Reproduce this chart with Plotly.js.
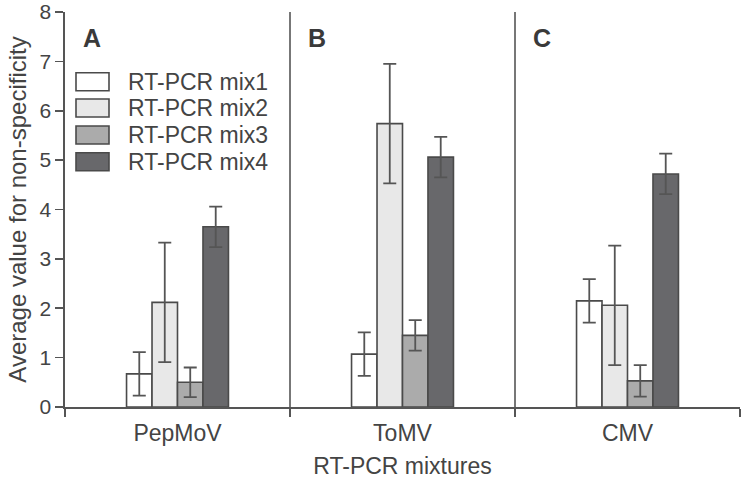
<!DOCTYPE html>
<html>
<head>
<meta charset="utf-8">
<script src="https://cdn.plot.ly/plotly-3.0.1.min.js"></script>
<style>
  html, body { margin: 0; padding: 0; background: #fff; }
  #chart { width: 748px; height: 483px; }
</style>
</head>
<body>
<div id="chart"></div>
<script>
// Virus targets on the x axis
const viruses = ['PepMoV', 'ToMV', 'CMV'];
const panelLetters = ['A', 'B', 'C'];

// Mean non-specificity per RT-PCR mixture, one value per virus
const seriesNames = ['RT-PCR mix1', 'RT-PCR mix2', 'RT-PCR mix3', 'RT-PCR mix4'];
const mix1 = [0.67, 1.07, 2.15];
const mix2 = [2.12, 5.74, 2.06];
const mix3 = [0.50, 1.45, 0.53];
const mix4 = [3.65, 5.06, 4.72];

// Error bar half-lengths
const mix1Err = [0.44, 0.44, 0.44];
const mix2Err = [1.21, 1.21, 1.21];
const mix3Err = [0.30, 0.31, 0.32];
const mix4Err = [0.41, 0.41, 0.41];

const yTicks = [0, 1, 2, 3, 4, 5, 6, 7, 8];

const fills = ['#ffffff', '#e8e8e8', '#ababab', '#68686b'];
const ink = '#444444';
const font = 'Liberation Sans, Arial, sans-serif';

const values = [mix1, mix2, mix3, mix4];
const errs = [mix1Err, mix2Err, mix3Err, mix4Err];

const traces = values.map((v, i) => ({
  type: 'bar',
  name: seriesNames[i],
  x: viruses,
  y: v,
  marker: { color: fills[i], line: { color: '#4a4a4a', width: 1.6 } },
  error_y: { type: 'data', array: errs[i], visible: true, color: '#555555', thickness: 1.8, width: 6.5 },
  showlegend: false,
  hoverinfo: 'skip'
}));

// Panel separators between virus groups
const shapes = [0.5, 1.5].map(x => ({
  type: 'line', xref: 'x', yref: 'paper', x0: x, x1: x, y0: 0, y1: 1,
  line: { color: '#555555', width: 1.6 }
}));

const annotations = panelLetters.map((t, i) => ({
  text: '<b>' + t + '</b>', xref: 'x', yref: 'paper', x: i - 0.38, y: 0.935,
  showarrow: false, xanchor: 'center', yanchor: 'middle',
  font: { family: font, size: 25, color: '#3a3a3a' }
}));

// Legend drawn as boxes with labels in the first panel
const legendRowY = [81.7, 108, 135, 161.7];
const plotTop = 12, plotH = 395;
seriesNames.forEach((name, i) => {
  const cy = 1 - (legendRowY[i] - plotTop) / plotH;
  const hh = 9 / plotH;
  shapes.push({
    type: 'rect', xref: 'paper', yref: 'paper',
    x0: (76 - 65) / 675, x1: (109 - 65) / 675, y0: cy - hh, y1: cy + hh,
    fillcolor: fills[i], line: { color: '#4a4a4a', width: 1.6 }
  });
  annotations.push({
    text: name, xref: 'paper', yref: 'paper', x: (126 - 65) / 675, y: cy,
    showarrow: false, xanchor: 'left', yanchor: 'middle',
    font: { family: font, size: 23, color: ink }
  });
});

const layout = {
  width: 748, height: 483,
  margin: { l: 65, r: 8, t: 12, b: 76 },
  paper_bgcolor: '#ffffff', plot_bgcolor: '#ffffff',
  barmode: 'group', bargap: 0.547, bargroupgap: 0,
  font: { family: font, color: ink },
  xaxis: {
    type: 'category', range: [-0.5, 2.5],
    showline: true, linecolor: '#555555', linewidth: 1.6,
    ticks: 'outside', tickson: 'boundaries', ticklen: 8, tickcolor: '#555555', tickwidth: 1.6,
    showgrid: false, zeroline: false,
    tickfont: { family: font, size: 23, color: ink },
    ticklabelstandoff: 5,
    title: { text: 'RT-PCR mixtures', font: { family: font, size: 23, color: ink }, standoff: 12 },
    automargin: false
  },
  yaxis: {
    range: [0, 8], tickvals: yTicks,
    showline: true, linecolor: '#555555', linewidth: 1.6,
    ticks: 'outside', ticklen: 8, tickcolor: '#555555', tickwidth: 1.6,
    showgrid: false, zeroline: false,
    tickfont: { family: font, size: 21, color: ink },
    title: { text: 'Average value for non-specificity', font: { family: font, size: 24, color: ink }, standoff: 6 },
    automargin: false
  },
  shapes: shapes,
  annotations: annotations
};

Plotly.newPlot('chart', traces, layout, { displayModeBar: false, staticPlot: true });
</script>
</body>
</html>
